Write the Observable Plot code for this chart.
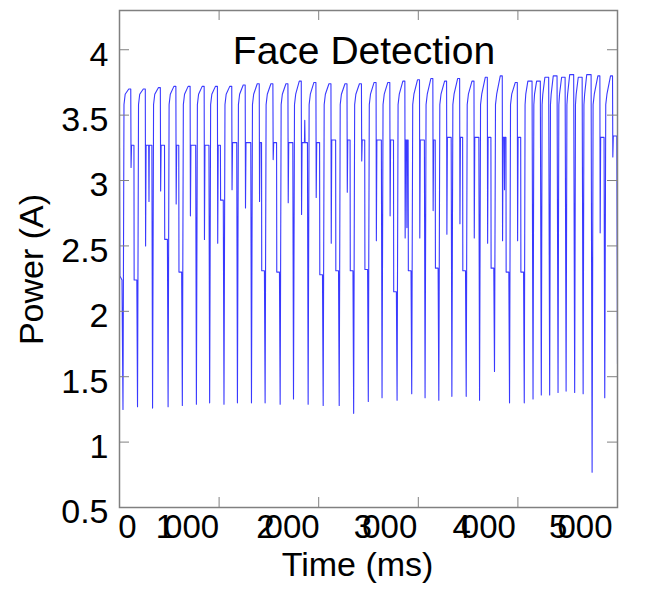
<!DOCTYPE html>
<html><head><meta charset="utf-8">
<script src="https://cdn.jsdelivr.net/npm/d3@7"></script>
<script src="https://cdn.jsdelivr.net/npm/@observablehq/plot@0.6"></script>
<style>
body{margin:0;background:#fff}
svg{font-family:"Liberation Sans",Arial,sans-serif}
</style>
</head><body><div id="chart"></div>
<script>
const titleText = "Face Detection";
const xLabel = "Time (ms)";
const yLabel = "Power (A)";
const xTicks = [0, 1000, 2000, 3000, 4000, 5000];
const yTicks = [0.5, 1, 1.5, 2, 2.5, 3, 3.5, 4];

// one entry per cycle, starting at each downward spike
const spikeMs = [35,181,332,488,631,772,905,1049,1184,1325,1462,1613,1747,1894,2045,2206,2351,2498,2636,2787,2934,3068,3206,3337,3481,3615,3765,3916,4064,4152,4235,4319,4403,4484,4570,4655,4745,4872];
const lowA = [1.25,1.27,1.26,1.27,1.28,1.29,1.30,1.29,1.30,1.30,1.30,1.29,1.33,1.29,1.28,1.28,1.22,1.31,1.34,1.32,1.37,1.34,1.32,1.35,1.35,1.32,1.54,1.30,1.30,1.33,1.36,1.36,1.38,1.39,1.38,1.37,0.77,1.34];
const peakA = [3.70,3.70,3.71,3.72,3.72,3.72,3.72,3.72,3.73,3.74,3.74,3.74,3.76,3.75,3.74,3.74,3.74,3.75,3.75,3.76,3.77,3.78,3.76,3.78,3.76,3.79,3.80,3.75,3.76,3.76,3.79,3.80,3.79,3.81,3.79,3.81,3.80,3.80];
const dipA = [3.10,2.50,2.92,2.82,2.73,2.55,2.52,2.93,2.79,2.84,3.16,2.83,2.74,2.87,2.52,2.91,3.15,2.54,2.73,2.56,2.56,2.77,2.59,2.67,2.56,2.52,2.54,2.54,null,null,null,null,null,null,null,null,2.60,3.18];
const plateauA = [3.27,3.27,3.27,3.27,3.27,3.27,3.27,3.29,3.29,3.29,3.29,3.29,3.29,3.29,3.31,3.31,3.31,3.31,3.31,3.31,3.31,3.31,3.33,3.33,3.33,3.33,3.33,3.33,null,null,null,null,null,null,null,null,3.33,3.34];
const dip2A = [null,2.84,null,null,null,null,null,null,null,null,null,null,3.46,null,null,null,null,null,null,2.64,null,null,null,null,null,null,2.93,null,null,null,null,null,null,null,null,null,null,null];
const shoulderA = [2.24,null,2.55,2.30,null,null,2.85,null,null,2.31,2.30,null,null,2.28,2.31,2.31,2.32,null,2.15,2.31,null,2.33,null,2.31,null,2.33,2.30,2.30,null,null,null,null,null,null,null,null,null,null];
// pulse timing within a cycle (ms after the spike) and rise levels
const pulseMs = {rise: 10, knee: 22, peak: 58, highEnd: 78, dip: 81, plateau: 86};
const latePulseMs = {rise: 8, knee: 15, peak: 36};
const riseA = 3.58, kneeA = 3.66;
const startMs = [0, 4, 25], startA = [3.25, 2.27, 2.24];
const endMs = 5000, endA = 1.6;

const pts = [];
const add = (t, v) => pts.push({t, v});
startMs.forEach((t, i) => add(t, startA[i]));
for (let i = 0; i < spikeMs.length; i++) {
  const s = spikeMs[i];
  const n = i + 1 < spikeMs.length ? spikeMs[i + 1] : endMs;
  add(s, lowA[i]);
  if (dipA[i] == null) {
    add(s + latePulseMs.rise, riseA);
    add(s + latePulseMs.knee, kneeA);
    add(s + latePulseMs.peak, peakA[i]);
    add(n - 10, peakA[i]);
  } else {
    add(s + pulseMs.rise, riseA);
    add(s + pulseMs.knee, kneeA);
    add(s + pulseMs.peak, peakA[i]);
    add(s + pulseMs.highEnd, peakA[i]);
    add(s + pulseMs.dip, dipA[i]);
    add(s + pulseMs.plateau, plateauA[i]);
    const pEnd = shoulderA[i] != null ? n - 36 : n - 7;
    if (dip2A[i] != null) {
      const m = (s + pulseMs.plateau + pEnd) / 2;
      add(m - 3, plateauA[i]); add(m, dip2A[i]); add(m + 3, plateauA[i]);
    }
    add(pEnd, plateauA[i]);
    if (shoulderA[i] != null) { add(n - 34, shoulderA[i]); add(n - 7, shoulderA[i]); }
  }
}
add(endMs, endA);

const W = 649, H = 590, mL = 119, mR = 32, mT = 10, mB = 83;
const iw = W - mL - mR, ih = H - mT - mB, tl = 10;
const gray = "#808080";
// horizontal nudge of each x tick label (px), as placed in the picture
const xLabelShift = [17, 0, 1, -1, -2, -5];

const chart = Plot.plot({
  width: W, height: H,
  marginLeft: mL, marginRight: mR, marginTop: mT, marginBottom: mB,
  style: {fontFamily: "'Liberation Sans', Arial, sans-serif", background: "#fff", overflow: "visible"},
  x: {domain: [0, 5000], label: null},
  y: {domain: [0.5, 4.3], label: null},
  marks: [
    Plot.line(pts, {x: "t", y: "v", stroke: "#2323ff", strokeWidth: 1.1, strokeOpacity: 0.9, clip: true}),
    Plot.frame({stroke: gray, strokeWidth: 1.5}),
    Plot.tickY(yTicks.slice(1), {y: d => d, stroke: gray, insetRight: iw - tl}),
    Plot.tickY(yTicks.slice(1), {y: d => d, stroke: gray, insetLeft: iw - tl}),
    Plot.tickX(xTicks.slice(1, -1), {x: d => d, stroke: gray, insetBottom: ih - tl}),
    Plot.tickX(xTicks.slice(1, -1), {x: d => d, stroke: gray, insetTop: ih - tl}),
    Plot.axisY(yTicks, {tickSize: 0, tickPadding: 11, fontSize: 34, dy: 5, label: null, tickFormat: d => String(d), fill: "#000"}),
    Plot.axisX(xTicks, {tickSize: 0, tickPadding: 7, fontSize: 33, textAnchor: "end", label: null, tickFormat: d => String(d), fill: "#000"}),
    Plot.text([titleText], {frameAnchor: "top", lineAnchor: "middle", textAnchor: "middle", dy: 41.5, dx: -4.5, fontSize: 39, fill: "#000"}),
    Plot.text([xLabel], {frameAnchor: "bottom", lineAnchor: "middle", textAnchor: "middle", dy: 58, dx: -11, fontSize: 34, fill: "#000"}),
    Plot.text([yLabel], {frameAnchor: "left", lineAnchor: "middle", textAnchor: "middle", dx: -87, dy: 10.5, rotate: -90, fontSize: 34, fill: "#000"})
  ]
});

// reproduce the tight glyph spacing and placement of the x tick labels in the picture
const svg = d3.select(chart);
svg.selectAll('g[aria-label="x-axis tick label"] text').each(function(_, i) {
  const el = d3.select(this);
  const s = this.textContent;
  const tr = el.attr("transform") || "";
  el.attr("transform", `translate(${xLabelShift[i] ?? 0},0) ${tr}`);
  if (s.length === 4) el.attr("dx", "0 -10 0 0");
});
document.getElementById("chart").appendChild(chart);
</script>
</body></html>
